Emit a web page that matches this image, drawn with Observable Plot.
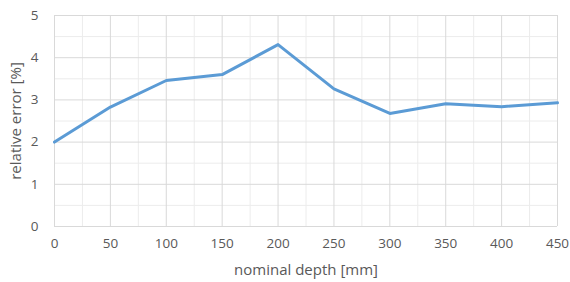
<!DOCTYPE html>
<html><head><meta charset="utf-8">
<script src="https://cdn.jsdelivr.net/npm/d3@7"></script>
<script src="https://cdn.jsdelivr.net/npm/@observablehq/plot@0.6"></script>
<style>body{margin:0;background:#fff;} svg{font-family:"Open Sans",sans-serif;}</style>
</head><body><div id="chart"></div>
<script>
const depths = [0, 50, 100, 150, 200, 250, 300, 350, 400, 450];
const errors = [2.0, 2.83, 3.46, 3.60, 4.31, 3.26, 2.68, 2.91, 2.84, 2.93];
const xTicks = [0, 50, 100, 150, 200, 250, 300, 350, 400, 450];
const xMinor = [25, 75, 125, 175, 225, 275, 325, 375, 425];
const yTicks = [0, 1, 2, 3, 4, 5];
const yMinor = [0.5, 1.5, 2.5, 3.5, 4.5];
const data = depths.map((d, i) => ({depth: d, error: errors[i]}));

const chart = Plot.plot({
  width: 570, height: 282,
  marginLeft: 54, marginRight: 13, marginTop: 15, marginBottom: 56,
  style: {fontSize: "13.5px", color: "#595959", fontFamily: "Open Sans, sans-serif"},
  x: {domain: [0, 450]},
  y: {domain: [0, 5]},
  marks: [
    Plot.ruleX(xMinor, {stroke: "#ececec", strokeWidth: 1}),
    Plot.ruleY(yMinor, {stroke: "#ececec", strokeWidth: 1}),
    Plot.ruleX(xTicks, {stroke: "#d9d9d9", strokeWidth: 1}),
    Plot.ruleY(yTicks, {stroke: "#d9d9d9", strokeWidth: 1}),
    Plot.axisX({ticks: xTicks, tickFormat: "d", tickSize: 0, tickPadding: 12, label: null, fill: "#595959"}),
    Plot.axisY({ticks: yTicks, tickFormat: "d", tickSize: 0, tickPadding: 16, label: null, fill: "#595959"}),
    Plot.axisX({ticks: [], label: "nominal depth [mm]", labelAnchor: "center", labelOffset: 48, labelArrow: "none", fill: "#595959", fontSize: 15}),
    Plot.axisY({ticks: [], label: "relative error [%]", labelAnchor: "center", labelOffset: 44, labelArrow: "none", fill: "#595959", fontSize: 15}),
    Plot.line(data, {x: "depth", y: "error", stroke: "#5b9bd5", strokeWidth: 3, strokeLinejoin: "round"})
  ]
});
document.getElementById("chart").appendChild(chart);
</script></body></html>
